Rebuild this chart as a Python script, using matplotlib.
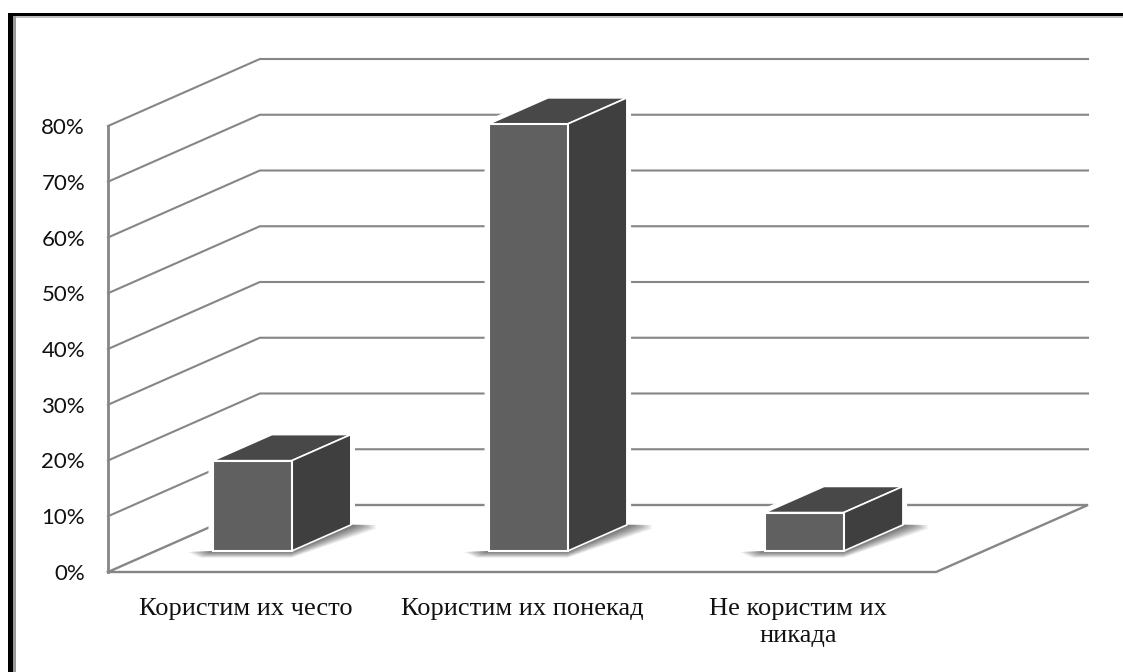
import matplotlib
matplotlib.use('Agg')
import matplotlib.pyplot as plt
from matplotlib.patches import Polygon, Rectangle

# podaci
categories = ['Користим их често', 'Користим их понекад', 'Не користим их\nникада']
values = [16.2, 76.6, 6.9]
y_ticks = [0, 10, 20, 30, 40, 50, 60, 70, 80]
y_labels = ['0%', '10%', '20%', '30%', '40%', '50%', '60%', '70%', '80%']

W, H = 1123, 672
# oblique 3D: one full depth step, in category units and percent units
DEPTH_X = 152 / 276.3
DEPTH_Y = 67 / 5.575
BAR_WIDTH = 0.286
BAR_SHIFT = -0.15
BAR_D0 = 0.313
BAR_D1 = 0.313 + 0.39

GRID = '#868686'
FRONT = '#606060'
SIDE = '#3f3f3f'
TOP = '#484848'


def proj(cat, val, depth=0.0):
    return cat + depth * DEPTH_X, val + depth * DEPTH_Y


fig = plt.figure(figsize=(W / 100, H / 100), dpi=100)
ax = fig.add_axes([108 / W, 1 - 572 / H, 980 / W, 513 / H])
ax.set_xlim(-0.5, 2.5 + DEPTH_X)
ax.set_ylim(0, 80 + DEPTH_Y)
ax.patch.set_visible(False)
for s in ax.spines.values():
    s.set_visible(False)

# walls and gridlines
for v in y_ticks:
    if v == 0:
        continue
    xs, ys = zip(proj(-0.5, v), proj(-0.5, v, 1), proj(2.5, v, 1))
    # back line stretches to the right end of the floor
    xs = [xs[0], xs[1], 2.5 + DEPTH_X]
    ax.plot(xs, ys, color=GRID, lw=1.5, zorder=1, clip_on=False, solid_joinstyle='miter')

# floor
fx = [-0.5, 2.5, 2.5 + DEPTH_X, -0.5 + DEPTH_X, -0.5]
fy = [0, 0, DEPTH_Y, DEPTH_Y, 0]
ax.plot(fx, fy, color=GRID, lw=1.7, zorder=1, clip_on=False, solid_joinstyle='miter')
ax.plot([-0.5, -0.5], [0, 80], color=GRID, lw=2, zorder=1, clip_on=False)

# bars
for i, val in enumerate(values):
    left = i + BAR_SHIFT - BAR_WIDTH / 2
    right = i + BAR_SHIFT + BAR_WIDTH / 2
    a = proj(left, 0, BAR_D0)
    b = proj(right, 0, BAR_D0)
    c = proj(right, 0, BAR_D1)
    e = proj(right, val, BAR_D0)
    f = proj(left, val, BAR_D0)
    g = proj(right, val, BAR_D1)
    h = proj(left, val, BAR_D1)

    # white halo cuts the gridlines around the bar
    outline = [a, b, c, g, h, f]
    ax.add_patch(Polygon(outline, closed=True, fc='white', ec='white', lw=6, zorder=3,
                         joinstyle='round'))

    # soft shadow on the floor, built from stacked translucent shapes
    n = 14
    for k in range(n):
        t = k / (n - 1)
        sx = 0.09 * (1 - t)
        sy = 1.2 * (1 - t)
        shadow = [(a[0] - sx, a[1] - 0.15 * sy), (a[0] - 0.5 * sx, a[1] - sy), (b[0], b[1] - sy),
                  (c[0] + sx, c[1] - 0.6 * sy), (c[0] + sx, c[1] + 0.1 * (1 - sy)), c, b, a]
        ax.add_patch(Polygon(shadow, closed=True, fc='#3a3a3a', ec='none', alpha=0.07 + 0.03 * t, zorder=4))

    ax.add_patch(Polygon([h, g, e, f], closed=True, fc=TOP, ec='white', lw=1.2, zorder=5))
    ax.add_patch(Polygon([b, c, g, e], closed=True, fc=SIDE, ec='white', lw=1.2, zorder=5))
    ax.add_patch(Polygon([a, b, e, f], closed=True, fc=FRONT, ec='white', lw=1.5, zorder=6))

# axis text
ax.set_yticks(y_ticks)
ax.set_yticklabels(y_labels, family='Lato', fontsize=16, color='#111111')
ax.set_xticks(range(3))
ax.set_xticklabels(categories, family='Liberation Serif', fontsize=19, color='#111111',
                   linespacing=1.3)
ax.tick_params(axis='both', length=0)
ax.tick_params(axis='y', pad=16.5)
ax.tick_params(axis='x', pad=19)

# page frame around the chart
for (x0, y0, x1, y1, col) in [(8, 13, W, 16, 'black'), (8, 13, 13, H, 'black'),
                              (13, 16, W, 18, '#c0c0c0'), (13, 16, 16, H, '#9a9a9a')]:
    fig.add_artist(Rectangle((x0 / W, 1 - y1 / H), (x1 - x0) / W, (y1 - y0) / H,
                             transform=fig.transFigure, fc=col, ec='none'))

fig.savefig('out.png', dpi=100)
